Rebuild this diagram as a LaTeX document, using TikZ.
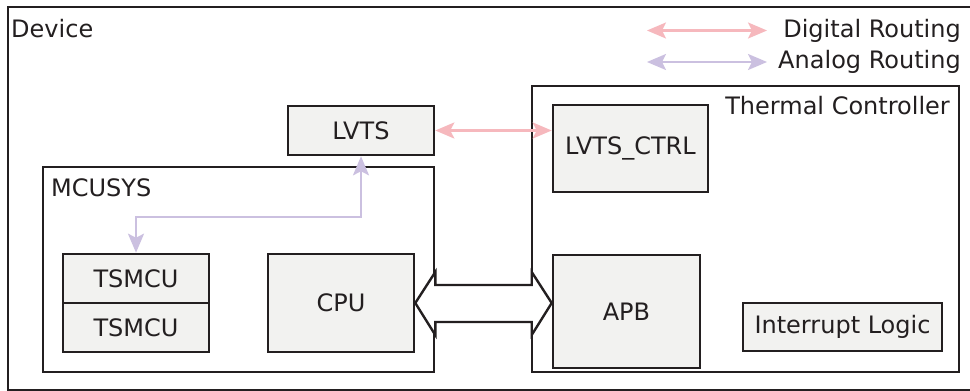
\documentclass[tikz,border=0pt]{standalone}
\usepackage{fontspec}
\setmainfont{DejaVu Sans}
\usetikzlibrary{arrows.meta,calc}
\definecolor{ink}{HTML}{231F20}
\definecolor{boxfill}{HTML}{F2F2F0}
\definecolor{pinkr}{HTML}{F6B8BD}
\definecolor{purpr}{HTML}{CBC0E0}
\tikzset{
  every node/.style={font=\fontsize{24}{28}\selectfont, text=ink},
  block/.style={draw=ink, line width=2.6pt, fill=boxfill, inner sep=0pt},
  frame/.style={draw=ink, line width=2.6pt},
  lbl/.style={inner sep=0pt},
  tipx/.style={Stealth[length=19pt,width=16pt,inset=4pt]},
  digital/.style={draw=pinkr, line width=2.2pt, {Stealth[length=19pt,width=16pt,inset=4pt]}-{Stealth[length=19pt,width=16pt,inset=4pt]}},
  analog/.style={draw=purpr, line width=2.2pt, {Stealth[length=19pt,width=16pt,inset=4pt]}-{Stealth[length=19pt,width=16pt,inset=4pt]}},
  bus/.style={draw=ink, line width=2.4pt, fill=white, line join=miter}
}
\begin{document}
\begin{tikzpicture}[x=1pt,y=-1pt]
\useasboundingbox (0,0) rectangle (970,391);
\clip (0,0) rectangle (970,391);
\fill[white] (0,0) rectangle (970,391);
% frames
\draw[frame] (8,7) rectangle (985,390);
\node[lbl, anchor=base west] (devlbl) at (11,37) {Device};
\draw[frame] (43,167) rectangle (434,372);
\node[lbl, anchor=base west] (mculbl) at (51,196) {MCUSYS};
\draw[frame] (532,86) rectangle (959,372);
\node[lbl, anchor=base east] (thlbl) at (950,114) {Thermal Controller};
% blocks
\node[block, minimum width=146pt, minimum height=49pt] (lvts) at (361,130.5) {LVTS};
\node[block, minimum width=155pt, minimum height=87pt] (ctrl) at (630.5,148.5) {LVTS\_CTRL};
\node[block, minimum width=147pt, minimum height=113pt] (apb) at (626.5,311.5) {APB};
\node[block, minimum width=199pt, minimum height=48pt] (irq) at (842.5,327) {Interrupt Logic};
\node[block, minimum width=146pt, minimum height=49pt] (ts1) at (136,278.5) {TSMCU};
\node[block, minimum width=146pt, minimum height=49pt] (ts2) at (136,327.5) {TSMCU};
\node[block, minimum width=146pt, minimum height=98pt] (cpu) at (341,303) {CPU};
% bus arrow
\coordinate (bl) at (cpu.east);
\coordinate (br) at (cpu.east -| apb.west);
\draw[bus] (bl) -- ++(20,-31) -- ++(0,13) -- ($(br)+(-20,-18)$) -- ++(0,-13) -- (br)
  -- ++(-20,32) -- ++(0,-13) -- ($(bl)+(20,19)$) -- ++(0,13) -- cycle;
% routing
\draw[digital] (lvts.east) -- (lvts.east -| ctrl.west);
\draw[analog] (ts1.north) -- ++(0,-36) -| (lvts.south);
% legend
\coordinate (d1) at (647,30.5);
\coordinate (d2) at (767,30.5);
\coordinate (a1) at (647,62);
\coordinate (a2) at (767,62);
\draw[digital] (d1) -- (d2);
\draw[analog] (a1) -- (a2);
\node[lbl, anchor=base east] (dlbl) at (961,37) {Digital Routing};
\node[lbl, anchor=base east] (albl) at (961,68) {Analog Routing};
\end{tikzpicture}
\end{document}
